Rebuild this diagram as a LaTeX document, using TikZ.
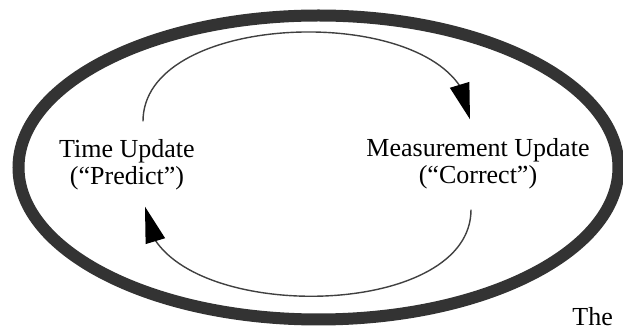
\documentclass[tikz,border=0pt]{standalone}
\usepackage{fontspec}
\setmainfont{Liberation Serif}
\usepackage{tikz}
\usetikzlibrary{arrows.meta,bending}

\tikzset{
  ring/.style={line width=6pt, draw=black!80},
  loopline/.style={line width=0.7pt, draw=black!75, -{Triangle[length=18pt,width=10pt,black]}},
  phase/.style={align=center, inner sep=0pt, font=\fontsize{13}{13.5}\selectfont}
}

\begin{document}
\begin{tikzpicture}[x=0.5pt,y=0.5pt]
\useasboundingbox (0,0) rectangle (623,332);

% outer loop
\draw[ring] (318.5,164.5) ellipse [x radius=300, y radius=152];

\node[phase] (time) at (127,167) {Time Update\\(“Predict”)};
\node[phase] (meas) at (478,168) {Measurement Update\\(“Correct”)};
\node[phase, anchor=base west] (the) at (572,6) {The};

\coordinate (timeTop) at ([shift={(8pt,9pt)}]time.north);
\coordinate (measTop) at ([shift={(-4pt,9.5pt)}]meas.north);
\coordinate (measBot) at ([shift={(-3.5pt,-10pt)}]meas.south);
\coordinate (timeBot) at ([shift={(9pt,-8pt)}]time.south);

% predict -> correct -> predict
\draw[loopline] (timeTop) to[out=90,in=90,looseness=0.92] (measTop);
\draw[loopline] (measBot) to[out=-90,in=-90,looseness=0.92] (timeBot);
\end{tikzpicture}
\end{document}
